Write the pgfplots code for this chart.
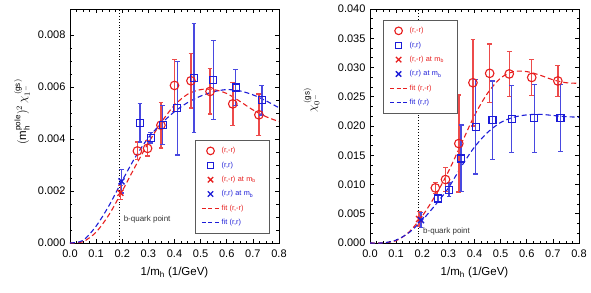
\documentclass[border=0pt]{standalone}
\usepackage{pgfplots}
\pgfplotsset{compat=1.18}
\usepackage{pgfplotstable}
\usepackage{fontspec}
\setmainfont{Liberation Sans}
\definecolor{myred}{RGB}{232,30,30}
\definecolor{myblue}{RGB}{28,28,216}
\definecolor{legframe}{RGB}{90,90,90}

% left panel data
\pgfplotstableread{
x y e
0.258 0.00354 0.00034
0.297 0.00364 0.00029
0.348 0.00453 0.00088
0.400 0.00606 0.00100
0.463 0.00624 0.00105
0.536 0.00583 0.00087
0.623 0.00535 0.00082
0.723 0.00493 0.00080
}\Lrc
\pgfplotstableread{
x y e
0.268 0.00463 0.00074
0.309 0.00405 0.00020
0.355 0.00454 0.00075
0.411 0.00518 0.00180
0.475 0.00634 0.00210
0.549 0.00628 0.00152
0.634 0.00598 0.00068
0.734 0.00549 0.00057
}\Lbs
\pgfplotstableread{
x y e
0.193 0.00193 0.00027
}\Lrx
\pgfplotstableread{
x y e
0.197 0.00237 0.00045
}\Lbx
\pgfplotstableread{
x y
0 0
0.05 0.00005
0.1 0.00042
0.15 0.0011
0.2 0.0020
0.25 0.00295
0.3 0.00385
0.35 0.00465
0.4 0.0053
0.45 0.00572
0.5 0.0059
0.55 0.0059
0.6 0.00575
0.65 0.00545
0.7 0.00512
0.75 0.00486
0.8 0.00467
}\Lrf
\pgfplotstableread{
x y
0 0
0.05 0.0001
0.1 0.00065
0.15 0.00145
0.2 0.0024
0.25 0.0033
0.3 0.00405
0.35 0.0046
0.4 0.00505
0.45 0.0054
0.5 0.00565
0.55 0.00582
0.6 0.0059
0.65 0.00585
0.7 0.0057
0.75 0.00547
0.8 0.0052
}\Lbf

% right panel data
\pgfplotstableread{
x y e
0.250 0.00942 0.00095
0.289 0.01085 0.00200
0.340 0.01700 0.00830
0.394 0.02740 0.00740
0.458 0.02900 0.00500
0.533 0.02890 0.00380
0.619 0.02830 0.00310
0.719 0.02770 0.00270
}\Rrc
\pgfplotstableread{
x y e
0.261 0.00760 0.00060
0.302 0.00910 0.00115
0.349 0.01445 0.00570
0.404 0.01990 0.00810
0.469 0.02100 0.00670
0.542 0.02120 0.00570
0.629 0.02130 0.00585
0.729 0.02140 0.00570
}\Rbs
\pgfplotstableread{
x y e
0.188 0.0041 0.0013
}\Rrx
\pgfplotstableread{
x y e
0.195 0.0039 0.0013
}\Rbx
\pgfplotstableread{
x y
0 0
0.05 0.00002
0.1 0.0004
0.15 0.0019
0.2 0.0046
0.25 0.0081
0.3 0.0122
0.35 0.0170
0.4 0.0218
0.45 0.0256
0.5 0.0282
0.55 0.0293
0.6 0.0293
0.65 0.0287
0.7 0.0279
0.75 0.0274
0.8 0.0273
}\Rrf
\pgfplotstableread{
x y
0 0
0.05 0.00002
0.1 0.0005
0.15 0.0018
0.2 0.0039
0.25 0.0065
0.3 0.0094
0.35 0.0131
0.4 0.0164
0.45 0.0189
0.5 0.0206
0.55 0.0215
0.6 0.0219
0.65 0.0220
0.7 0.0218
0.75 0.0216
0.8 0.0215
}\Rbf

\pgfplotsset{
  panel/.style={
    scale only axis, width=209pt, height=234pt,
    xmin=0, xmax=0.8, ymin=0,
    tick align=inside,
    xtick={0,0.1,0.2,0.3,0.4,0.5,0.6,0.7,0.8},
    minor x tick num=3,
    scaled y ticks=false, scaled x ticks=false,
    /pgf/number format/assume math mode=true,
    tick label style={font=\fontsize{11}{13}\selectfont},
    xticklabel style={yshift=-3pt,/pgf/number format/.cd, fixed, fixed zerofill, precision=1},
    yticklabel style={xshift=-1pt,/pgf/number format/.cd, fixed, fixed zerofill, precision=3},
    label style={font=\fontsize{11.5}{13}\selectfont},
    xlabel={1/m$_\mathrm{h}$ (1/GeV)},
    xlabel style={at={(rel axis cs:0.5,-0.09)}, anchor=north},
    major tick length=4pt, minor tick length=2.5pt,
    axis line style={line width=0.8pt},
    every tick/.style={black, line width=0.6pt},
    legend style={font=\fontsize{7.3}{8.5}\selectfont, draw=legframe, line width=0.9pt,
      anchor=north west, row sep=3.6pt, inner xsep=6pt, inner ysep=5pt, cells={anchor=west},
      nodes={text width=40pt}},
  },
  rc/.style={myred, only marks, mark=o, mark size=4.3pt, line width=1.1pt,
    error bars/y dir=both, error bars/y explicit,
    error bars/error bar style={line width=1.5pt, myred!80},
    error bars/error mark options={rotate=90, mark size=2.4pt, line width=1.3pt, myred!80}},
  bs/.style={myblue, only marks, mark=square, mark size=3.5pt, line width=1.1pt,
    error bars/y dir=both, error bars/y explicit,
    error bars/error bar style={line width=1.5pt, myblue!80},
    error bars/error mark options={rotate=90, mark size=2.4pt, line width=1.3pt, myblue!80}},
  rx/.style={myred, only marks, mark=x, mark size=4.2pt, line width=1.4pt,
    error bars/y dir=both, error bars/y explicit,
    error bars/error bar style={line width=1.5pt, myred!80},
    error bars/error mark options={rotate=90, mark size=2.4pt, line width=1.3pt, myred!80}},
  bx/.style={myblue, only marks, mark=x, mark size=4.2pt, line width=1.4pt,
    error bars/y dir=both, error bars/y explicit,
    error bars/error bar style={line width=1.5pt, myblue!80},
    error bars/error mark options={rotate=90, mark size=2.4pt, line width=1.3pt, myblue!80}},
  fitline/.style={line width=1.1pt, dash pattern=on 5pt off 3pt, smooth, no marks},
}

\begin{document}
\begin{tikzpicture}
\path[use as bounding box] (0,0) rectangle (591pt,292pt);

% ---------------- left panel
\begin{axis}[panel, at={(70pt,49pt)}, anchor=south west,
  ymax=0.009, ytick={0,0.002,0.004,0.006,0.008}, minor y tick num=3,
  ylabel={$(\mathrm{m}_\mathrm{h}^{\mathrm{pole}})^2\,\chi_{1^-}^{\,\mathrm{(gs)}}$},
  ylabel style={at={(rel axis cs:-0.23,0.56)}, anchor=center},
  legend style={at={(rel axis cs:0.598,0.44)}},
]
\addplot[black, dotted, line width=0.9pt, forget plot] coordinates {(0.19,0) (0.19,0.009)};
\addplot[myred, fitline, forget plot] table[x=x,y=y] {\Lrf};
\addplot[myblue, fitline, forget plot] table[x=x,y=y] {\Lbf};
\addplot[rc, forget plot] table[x=x,y=y,y error=e] {\Lrc};
\addplot[bs, forget plot] table[x=x,y=y,y error=e] {\Lbs};
\addplot[rx, forget plot] table[x=x,y=y,y error=e] {\Lrx};
\addplot[bx, forget plot] table[x=x,y=y,y error=e] {\Lbx};
\node[anchor=west, font=\fontsize{8}{9}\selectfont, text=black!80, inner sep=0pt] at (axis cs:0.205,0.0009) {b-quark point};
\addlegendimage{only marks, mark=o, myred, mark size=3.8pt, line width=1.1pt}
\addlegendentry{\textcolor{myred}{(r,-r)}}
\addlegendimage{only marks, mark=square, myblue, mark size=3.1pt, line width=1.1pt}
\addlegendentry{\textcolor{myblue}{(r,r)}}
\addlegendimage{only marks, mark=x, myred, mark size=3.8pt, line width=1.3pt}
\addlegendentry{\textcolor{myred}{(r,-r) at m\textsubscript{b}}}
\addlegendimage{only marks, mark=x, myblue, mark size=3.8pt, line width=1.3pt}
\addlegendentry{\textcolor{myblue}{(r,r) at m\textsubscript{b}}}
\addlegendimage{draw=myred, line width=1.1pt, dash pattern=on 4pt off 2.5pt}
\addlegendentry{\textcolor{myred}{fit (r,-r)}}
\addlegendimage{draw=myblue, line width=1.1pt, dash pattern=on 4pt off 2.5pt}
\addlegendentry{\textcolor{myblue}{fit (r,r)}}
\end{axis}

% ---------------- right panel
\begin{axis}[panel, at={(370pt,49pt)}, anchor=south west,
  ymax=0.040, ytick={0,0.005,0.010,0.015,0.020,0.025,0.030,0.035,0.040}, minor y tick num=2,
  ylabel={$\chi_{0^-}^{\,\mathrm{(gs)}}$},
  ylabel style={at={(rel axis cs:-0.28,0.61)}, anchor=center},
  legend style={at={(rel axis cs:0.0625,0.953)}},
]
\addplot[black, dotted, line width=0.9pt, forget plot] coordinates {(0.185,0) (0.185,0.04)};
\addplot[myred, fitline, forget plot] table[x=x,y=y] {\Rrf};
\addplot[myblue, fitline, forget plot] table[x=x,y=y] {\Rbf};
\addplot[rc, forget plot] table[x=x,y=y,y error=e] {\Rrc};
\addplot[bs, forget plot] table[x=x,y=y,y error=e] {\Rbs};
\addplot[rx, forget plot] table[x=x,y=y,y error=e] {\Rrx};
\addplot[bx, forget plot] table[x=x,y=y,y error=e] {\Rbx};
\node[anchor=west, font=\fontsize{8}{9}\selectfont, text=black!80, inner sep=0pt] at (axis cs:0.203,0.0020) {b-quark point};
\addlegendimage{only marks, mark=o, myred, mark size=3.8pt, line width=1.1pt}
\addlegendentry{\textcolor{myred}{(r,-r)}}
\addlegendimage{only marks, mark=square, myblue, mark size=3.1pt, line width=1.1pt}
\addlegendentry{\textcolor{myblue}{(r,r)}}
\addlegendimage{only marks, mark=x, myred, mark size=3.8pt, line width=1.3pt}
\addlegendentry{\textcolor{myred}{(r,-r) at m\textsubscript{b}}}
\addlegendimage{only marks, mark=x, myblue, mark size=3.8pt, line width=1.3pt}
\addlegendentry{\textcolor{myblue}{(r,r) at m\textsubscript{b}}}
\addlegendimage{draw=myred, line width=1.1pt, dash pattern=on 4pt off 2.5pt}
\addlegendentry{\textcolor{myred}{fit (r,-r)}}
\addlegendimage{draw=myblue, line width=1.1pt, dash pattern=on 4pt off 2.5pt}
\addlegendentry{\textcolor{myblue}{fit (r,r)}}
\end{axis}
\end{tikzpicture}
\end{document}
